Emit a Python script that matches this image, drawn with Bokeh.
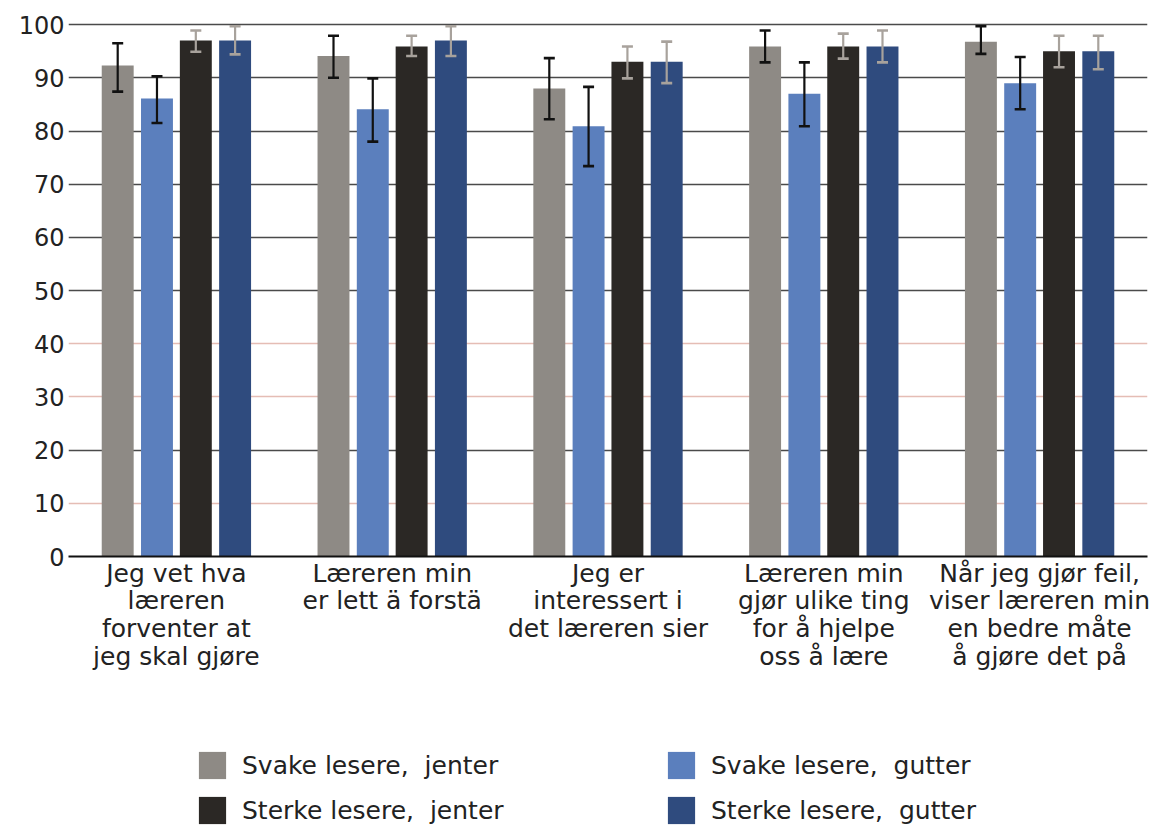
from bokeh.plotting import figure
from bokeh.layouts import column
from bokeh.models import (FactorRange, Range1d, Whisker, ColumnDataSource, Legend,
                          LegendItem, Grid, FixedTicker, TeeHead)
from bokeh.transform import dodge
from bokeh.embed import file_html
from bokeh.resources import INLINE

categories = [
    "Jeg vet hva\nlæreren\nforventer at\njeg skal gjøre",
    "Læreren min\ner lett ä forstä",
    "Jeg er\ninteressert i\ndet læreren sier",
    "Læreren min\ngjør ulike ting\nfor å hjelpe\noss å lære",
    "Når jeg gjør feil,\nviser læreren min\nen bedre måte\nå gjøre det på",
]
series_names = ["Svake lesere,  jenter", "Svake lesere,  gutter",
                "Sterke lesere,  jenter", "Sterke lesere,  gutter"]

svake_jenter = [92.3, 94.1, 88.0, 95.9, 96.8]
svake_jenter_lo = [87.4, 90.0, 82.2, 92.9, 94.5]
svake_jenter_hi = [96.5, 97.9, 93.7, 98.9, 99.7]

svake_gutter = [86.1, 84.1, 80.9, 87.0, 89.0]
svake_gutter_lo = [81.5, 78.0, 73.4, 80.9, 84.1]
svake_gutter_hi = [90.3, 89.9, 88.3, 92.9, 93.9]

sterke_jenter = [97.0, 95.9, 93.0, 95.9, 95.0]
sterke_jenter_lo = [94.9, 94.1, 89.9, 93.6, 92.0]
sterke_jenter_hi = [98.9, 97.9, 95.9, 98.3, 97.9]

sterke_gutter = [97.0, 97.0, 93.0, 95.9, 95.0]
sterke_gutter_lo = [94.4, 94.1, 89.0, 92.9, 91.6]
sterke_gutter_hi = [99.7, 99.7, 96.8, 98.9, 97.9]

y_ticks = [0, 10, 20, 30, 40, 50, 60, 70, 80, 90, 100]

series = [
    (svake_jenter, svake_jenter_lo, svake_jenter_hi),
    (svake_gutter, svake_gutter_lo, svake_gutter_hi),
    (sterke_jenter, sterke_jenter_lo, sterke_jenter_hi),
    (sterke_gutter, sterke_gutter_lo, sterke_gutter_hi),
]
bar_colors = ["#8e8a85", "#5b7fbd", "#2b2825", "#2f4b7e"]
err_colors = ["#111111", "#111111", "#a8a29c", "#a8a29c"]
offsets = [-0.272, -0.09, 0.09, 0.272]
FONT = "DejaVu Sans"

p = figure(x_range=FactorRange(factors=categories, range_padding=0),
           y_range=Range1d(0, 100.4),
           width=1162, height=700, output_backend="svg", toolbar_location=None,
           min_border_left=68, min_border_right=15, min_border_top=22,
           min_border_bottom=144)
p.outline_line_color = None
p.background_fill_color = "white"
p.xgrid.visible = False
p.ygrid.visible = False

dark_grid = Grid(dimension=1, ticker=FixedTicker(ticks=[20, 50, 60, 70, 80, 90, 100]),
                 grid_line_color="#4a4a4a", grid_line_width=1.6)
light_grid = Grid(dimension=1, ticker=FixedTicker(ticks=[10, 30, 40]),
                  grid_line_color="#e5bdb5", grid_line_width=1.6)
p.add_layout(dark_grid)
p.add_layout(light_grid)

# legend strip below the chart (shares the x range; its y range shows no bars)
q = figure(x_range=p.x_range, y_range=Range1d(1000, 1001),
           width=1162, height=129, output_backend="svg", toolbar_location=None,
           min_border_left=0, min_border_right=0, min_border_top=0, min_border_bottom=0)
q.axis.visible = False
q.grid.visible = False
q.outline_line_color = None

swatches = []
for i, (vals, lo, hi) in enumerate(series):
    src = ColumnDataSource(dict(cat=categories, v=vals, lo=lo, hi=hi))
    p.vbar(x=dodge("cat", offsets[i], range=p.x_range), top="v", bottom=0,
           width=0.148, source=src, fill_color=bar_colors[i], line_color=None)
    w = Whisker(base=dodge("cat", offsets[i], range=p.x_range), upper="hi", lower="lo",
                source=src, line_color=err_colors[i], line_width=2.2, level="annotation",
                upper_head=TeeHead(size=11, line_color=err_colors[i], line_width=2.6),
                lower_head=TeeHead(size=11, line_color=err_colors[i], line_width=2.6))
    p.add_layout(w)
    swatches.append(q.vbar(x=dodge("cat", offsets[i], range=q.x_range), top="v", bottom=0,
                           width=0.148, source=src, fill_color=bar_colors[i],
                           line_color=None))

p.yaxis.ticker = FixedTicker(ticks=y_ticks)
p.yaxis.axis_line_color = None
p.yaxis.major_tick_line_color = None
p.yaxis.minor_tick_line_color = None
p.yaxis.major_tick_out = 0
p.yaxis.major_tick_in = 0
p.yaxis.major_label_standoff = 4
p.yaxis.major_label_text_font = FONT
p.yaxis.major_label_text_font_size = "24px"
p.yaxis.major_label_text_color = "#222222"

p.xaxis.axis_line_color = "#111111"
p.xaxis.axis_line_width = 2
p.xaxis.major_tick_line_color = None
p.xaxis.minor_tick_line_color = None
p.xaxis.major_tick_out = 0
p.xaxis.major_tick_in = 0
p.xaxis.major_label_standoff = 2
p.xaxis.major_label_text_font = FONT
p.xaxis.major_label_text_font_size = "25px"
p.xaxis.major_label_text_line_height = 0.965
p.xaxis.major_label_text_color = "#222222"
p.xaxis.major_label_orientation = "horizontal"


def make_legend(items, loc):
    return Legend(items=items, location=loc, orientation="vertical",
                  glyph_width=34, glyph_height=34, label_standoff=13, spacing=11,
                  padding=0, margin=0, border_line_color=None,
                  background_fill_alpha=0, label_text_font=FONT,
                  label_text_font_size="25px", label_text_color="#222222")


leg_a = make_legend([LegendItem(label=series_names[0], renderers=[swatches[0]]),
                     LegendItem(label=series_names[2], renderers=[swatches[2]])],
                    (127, 2))
leg_b = make_legend([LegendItem(label=series_names[1], renderers=[swatches[1]]),
                     LegendItem(label=series_names[3], renderers=[swatches[3]])],
                    (596, 2))
q.add_layout(leg_a)
q.add_layout(leg_b)

layout = column(p, q, spacing=0)
open("out.html", "w").write(file_html(layout, INLINE))
